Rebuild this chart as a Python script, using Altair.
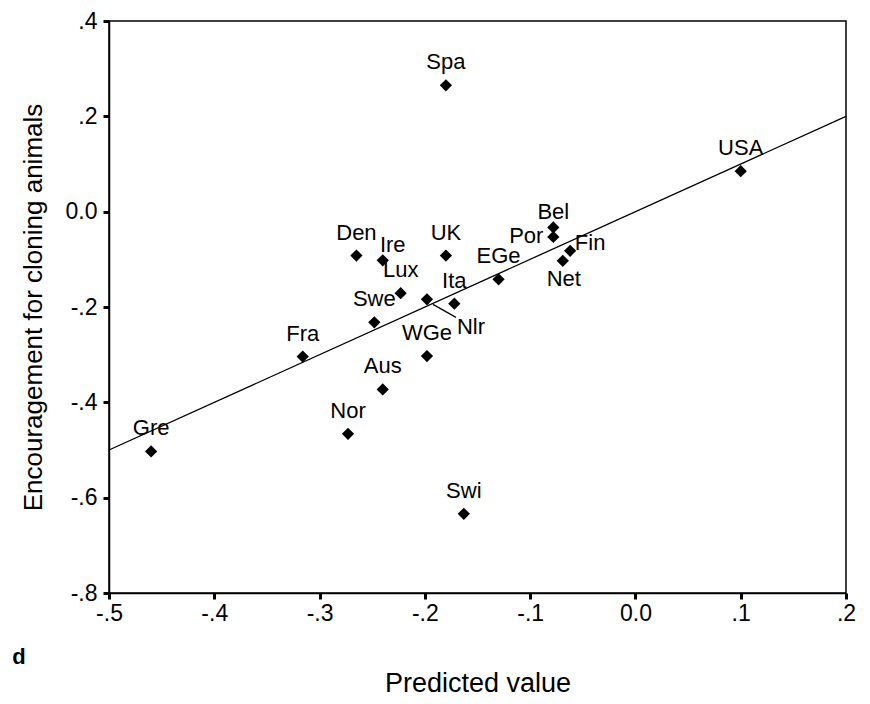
import altair as alt
import pandas as pd

# ---- data ----
countries = ["Gre", "Nor", "Fra", "Aus", "Swe", "Den", "Ire", "Lux", "UK", "Nlr",
             "Ita", "WGe", "Swi", "Spa", "EGe", "Bel", "Por", "Fin", "Net", "USA"]
predicted = [-0.460, -0.273, -0.316, -0.240, -0.248, -0.265, -0.240, -0.223, -0.180, -0.198,
             -0.172, -0.198, -0.163, -0.180, -0.130, -0.078, -0.078, -0.062, -0.069, 0.100]
encouragement = [-0.503, -0.466, -0.304, -0.373, -0.232, -0.092, -0.102, -0.171, -0.092, -0.184,
                 -0.193, -0.303, -0.634, 0.265, -0.142, -0.033, -0.053, -0.082, -0.103, 0.085]
placement = ["above", "above", "above", "above", "above", "above", "aboveright", "above", "above", "leader",
             "above", "above", "above", "above", "above", "abovenear", "left", "right", "below", "above"]

fit_x = [-0.5, 0.2]
fit_y = [-0.5, 0.2]

x_ticks = [-0.5, -0.4, -0.3, -0.2, -0.1, 0.0, 0.1, 0.2]
y_ticks = [-0.8, -0.6, -0.4, -0.2, 0.0, 0.2, 0.4]

# ---- styles / label offsets (pixels) ----
offsets = {
    "above": (0, -23),
    "aboveright": (10, -15),
    "abovenear": (0, -15),
    "left": (-27, -1),
    "right": (20, -8),
    "below": (1, 18),
    "leader": (44, 28),
}

FONT = "Liberation Sans"
W, H = 737, 572

df = pd.DataFrame({"country": countries, "predicted": predicted,
                   "encouragement": encouragement, "placement": placement})
fit = pd.DataFrame({"predicted": fit_x, "encouragement": fit_y})

label_expr = ("abs(datum.value) < 1e-9 ? '0.0' : "
              "replace(replace(format(datum.value, '.1f'), '\u2212', '-'), '0.', '.')")

x_enc = alt.X("predicted:Q",
              scale=alt.Scale(domain=[-0.5, 0.2], nice=False, zero=False),
              axis=alt.Axis(values=x_ticks, labelExpr=label_expr, title="Predicted value",
                            grid=False, domainColor="black", domainWidth=1.5,
                            tickColor="black", tickWidth=3, tickSize=6,
                            labelFont=FONT, labelFontSize=23, labelColor="black", labelPadding=3,
                            labelFlush=False,
                            titleFont=FONT, titleFontSize=27, titleFontWeight="normal",
                            titleColor="black", titleBaseline="middle", titleY=90))
y_enc = alt.Y("encouragement:Q",
              scale=alt.Scale(domain=[-0.8, 0.4], nice=False, zero=False),
              axis=alt.Axis(values=y_ticks, labelExpr=label_expr,
                            title="Encouragement for cloning animals",
                            grid=False, domainColor="black", domainWidth=1.5,
                            tickColor="black", tickWidth=3, tickSize=6,
                            labelFont=FONT, labelFontSize=23, labelColor="black", labelPadding=6,
                            labelFlush=False,
                            titleFont=FONT, titleFontSize=26, titleFontWeight="normal",
                            titleColor="black", titleBaseline="middle", titleAngle=270,
                            titleX=-76, titleY=H / 2))

base = alt.Chart(df)

fit_line = alt.Chart(fit).mark_line(color="black", strokeWidth=1.3).encode(x=x_enc, y=y_enc)

points = base.mark_point(shape="diamond", filled=True, color="black", size=150, opacity=1).encode(
    x=x_enc, y=y_enc)

leader = base.transform_filter(alt.datum.placement == "leader").mark_rule(
    color="black", strokeWidth=1.2, xOffset=6, yOffset=5, x2Offset=29, y2Offset=18
).encode(x=x_enc, y=y_enc, x2="predicted:Q", y2="encouragement:Q")

label_layers = []
for key, (dx, dy) in offsets.items():
    label_layers.append(
        base.transform_filter(alt.datum.placement == key).mark_text(
            font=FONT, fontSize=22, color="black", dx=dx, dy=dy, baseline="middle", align="center"
        ).encode(x=x_enc, y=y_enc, text="country:N")
    )

panel = alt.Chart(pd.DataFrame({"panel": ["d"]})).mark_text(
    font=FONT, fontSize=22, fontWeight="bold", color="black", baseline="middle", align="center"
).encode(x=alt.value(-90), y=alt.value(636), text="panel:N")

chart = alt.layer(fit_line, leader, points, *label_layers, panel).properties(
    width=W, height=H,
    autosize=alt.AutoSizeParams(type="none"),
    padding={"left": 101, "top": 13, "right": 16, "bottom": 108},
    background="white",
).configure_view(stroke="black", strokeWidth=1.5)

chart.save("out.html", embed_options={"renderer": "svg", "actions": False})
